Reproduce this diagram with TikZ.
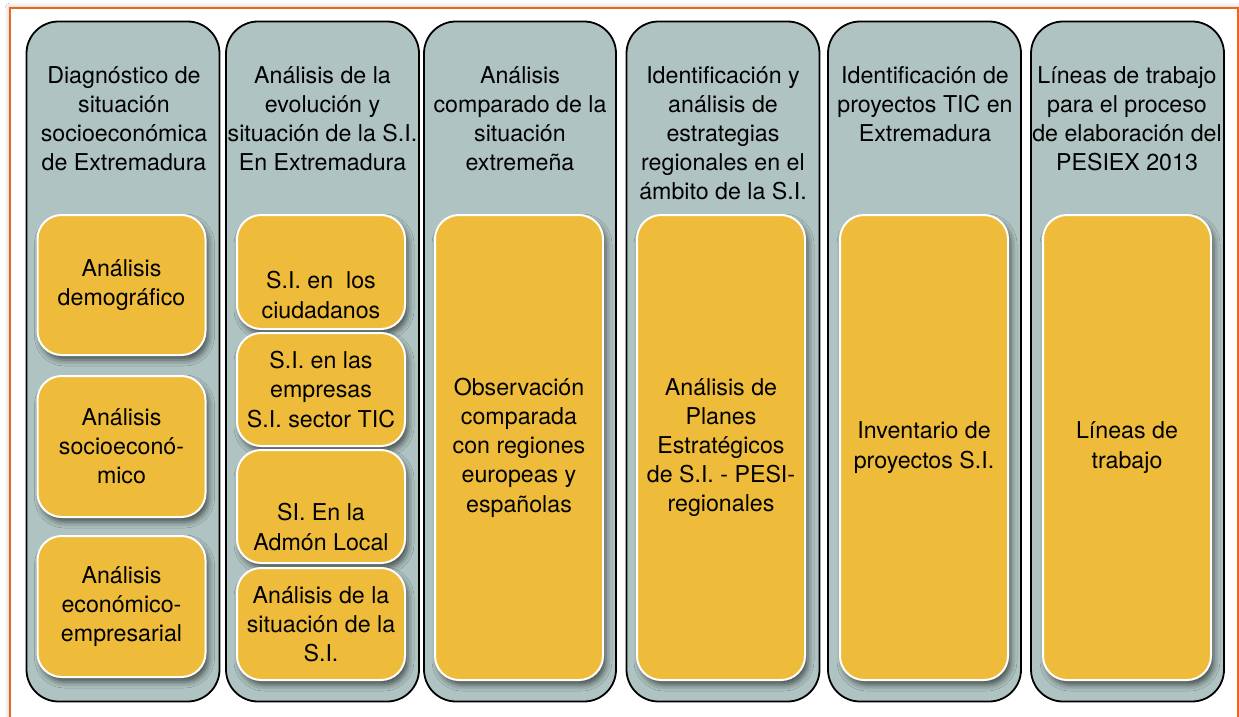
\documentclass[tikz,border=0pt]{standalone}
\usepackage{fontspec}
\setmainfont{TeX Gyre Heros}
\usetikzlibrary{shadows.blur}
\definecolor{colfill}{HTML}{AFC4C2}
\definecolor{gold}{HTML}{EEBC3A}
\definecolor{frameor}{HTML}{EA661C}
\newcommand\diafont{\fontsize{23.2}{29.2}\selectfont}
\tikzset{
  colbox/.style={draw=black, line width=1.8pt, fill=colfill, rounded corners=32pt,
    inner sep=0pt, minimum width=193pt, minimum height=680pt},
  goldbox/.style={draw=white, line width=2pt, fill=gold, rounded corners=24pt,
    inner sep=0pt, minimum width=168pt, align=center, font=\diafont,
    blur shadow={shadow xshift=3pt, shadow yshift=-5pt, shadow blur radius=6pt, shadow opacity=60}},
  title/.style={anchor=north, inner sep=0pt, align=center, font=\diafont},
  txt/.style={inner sep=0pt, align=center, font=\diafont},
}
\begin{document}
\begin{tikzpicture}[x=1pt,y=-1pt]
\useasboundingbox (0,0) rectangle (1239,717);
\fill[white] (0,0) rectangle (1239,717);
% frame
\path[fill=white, blur shadow={shadow xshift=0pt, shadow yshift=0pt, shadow blur radius=5pt, shadow opacity=35}] (10,8) rectangle (1238,780);
\draw[frameor, line width=2pt] (10,780) -- (10,8) -- (1238,8) -- (1238,780);
% columns
\node[colbox] (c1) at (123,361.5) {};
\node[colbox] (c2) at (322.5,361.5) {};
\node[colbox, minimum width=192pt] (c3) at (520,361.5) {};
\node[colbox] (c4) at (723,361.5) {};
\node[colbox] (c5) at (924.5,361.5) {};
\node[colbox] (c6) at (1127.5,361.5) {};
% titles
\node[title] (h1) at (124,66) {Diagnóstico de\\situación\\socioeconómica\\de Extremadura};
\node[title] (h2) at (322.5,66) {Análisis de la\\evolución y\\situación de la S.I.\\En Extremadura};
\node[title] (h3) at (520,66) {Análisis\\comparado de la\\situación\\extremeña};
\node[title] (h4) at (723,66) {Identificación y\\análisis de\\estrategias\\regionales en el\\ámbito de la S.I.};
\node[title] (h5) at (925,66) {Identificación de\\proyectos TIC en\\Extremadura};
\node[title] (h6) at (1127,66) {Líneas de trabajo\\para el proceso\\de elaboración del\\PESIEX 2013};
% column 1 boxes
\node[goldbox, minimum height=140pt] (b11) at (121.5,285) {Análisis\\demográfico};
\node[goldbox, minimum height=141pt] (b12) at (121.5,446.5) {Análisis\\socioeconó-\\mico};
\node[goldbox, minimum height=141pt] (b13) at (121.5,606.5) {Análisis\\económico-\\empresarial};
% column 2 boxes
\node[goldbox, minimum height=114pt] (b21) at (321,272) {};
\node[txt] (t21) at (321,295) {S.I. en~ los\\ciudadanos};
\node[goldbox, minimum height=113pt] (b22) at (321,389.5) {S.I. en las\\empresas\\S.I. sector TIC};
\node[goldbox, minimum height=113pt] (b23) at (321,506.5) {};
\node[txt] (t23) at (321,527) {SI. En la\\Admón Local};
\node[goldbox, minimum height=112pt] (b24) at (321,624) {Análisis de la\\situación de la\\S.I.};
% big boxes
\node[goldbox, minimum height=465pt] (b3) at (519,447.5) {Observación\\comparada\\con regiones\\europeas y\\españolas};
\node[goldbox, minimum height=465pt] (b4) at (721,447.5) {Análisis de\\Planes\\Estratégicos\\de S.I. - PESI-\\regionales};
\node[goldbox, minimum height=465pt] (b5) at (924,447.5) {Inventario de\\proyectos S.I.};
\node[goldbox, minimum height=465pt] (b6) at (1127,447.5) {Líneas de\\trabajo};
\end{tikzpicture}
\end{document}
